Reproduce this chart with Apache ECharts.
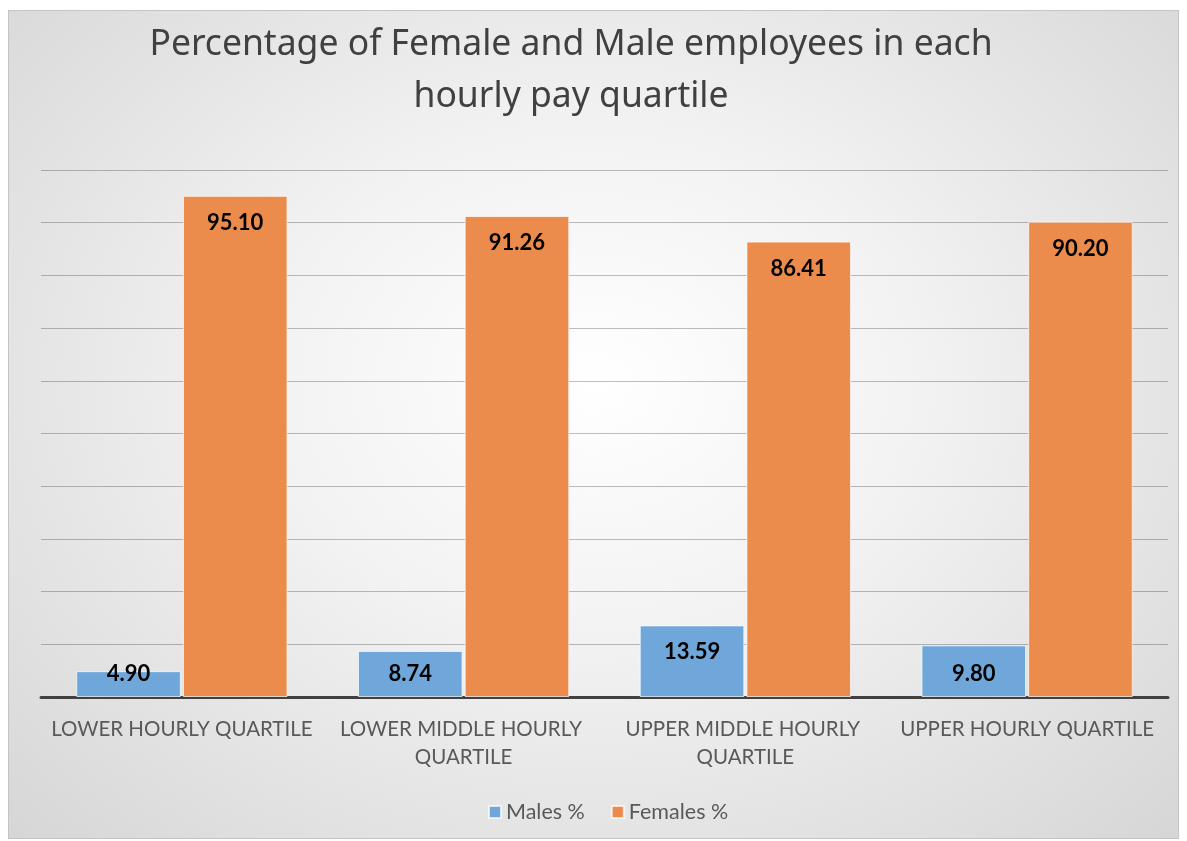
<!DOCTYPE html>
<html>
<head>
<meta charset="utf-8">
<script src="https://cdn.jsdelivr.net/npm/echarts@6/dist/echarts.min.js"></script>
<style>
  html, body { margin: 0; padding: 0; background: #fff; }
  #chart {
    position: absolute; left: 8px; top: 10px; width: 1169px; height: 827px;
    border: 1px solid #c4c4c4;
    background: radial-gradient(ellipse at 50% 45%, #ffffff 0%, #f2f2f2 40%, #d6d6d6 100%);
  }
</style>
</head>
<body>
<div id="chart"></div>
<script>
var categories = ['LOWER HOURLY QUARTILE', 'LOWER MIDDLE HOURLY QUARTILE', 'UPPER MIDDLE HOURLY QUARTILE', 'UPPER HOURLY QUARTILE'];
var males = [4.90, 8.74, 13.59, 9.80];
var females = [95.10, 91.26, 86.41, 90.20];

var myChart = echarts.init(document.getElementById('chart'));

// short bars: Excel keeps the label off the axis, so pin it to the bottom
function withLabels(vals) {
    return vals.map(function (v) {
        if (v < 10) {
            return { value: v, label: { position: 'insideBottom', distance: 12 } };
        }
        return v;
    });
}

var labelStyle = {
    show: true,
    position: 'insideTop',
    distance: 16,
    color: '#000',
    fontFamily: 'Lato',
    fontWeight: 'bold',
    fontSize: 22,
    formatter: function (p) { return p.value.toFixed(2); }
};

var option = {
    backgroundColor: 'transparent',
    title: {
        text: 'Percentage of Female and Male employees in each\nhourly pay quartile',
        left: 562,
        top: 8,
        padding: 0,
        textAlign: 'center',
        textStyle: {
            fontFamily: '"Comic Sans MS", "Noto Sans", sans-serif',
            fontWeight: 'normal',
            fontSize: 35.5,
            lineHeight: 52,
            color: '#404040'
        }
    },
    legend: {
        bottom: 10,
        left: 474,
        padding: 5,
        itemWidth: 12,
        itemHeight: 12,
        itemGap: 26,
        icon: 'rect',
        textStyle: { fontFamily: 'Lato', fontSize: 21.5, color: '#595959' },
        data: ['Males %', 'Females %']
    },
    grid: { left: 32, right: 10, top: 159, bottom: 141 },
    xAxis: {
        type: 'category',
        data: categories,
        axisLine: { lineStyle: { color: '#404040', width: 3 } },
        axisTick: { show: false },
        axisLabel: {
            interval: 0,
            margin: 18,
            width: 276,
            overflow: 'break',
            fontFamily: 'Lato',
            fontSize: 20.5,
            lineHeight: 28,
            color: '#595959'
        }
    },
    yAxis: {
        type: 'value',
        min: 0,
        max: 100,
        interval: 10,
        axisLabel: { show: false },
        axisLine: { show: false },
        axisTick: { show: false },
        splitLine: { lineStyle: { color: 'rgba(0,0,0,0.25)', width: 1 } }
    },
    series: [
        {
            name: 'Males %',
            type: 'bar',
            barGap: '2%',
            barCategoryGap: '25%',
            data: withLabels(males),
            itemStyle: { color: '#6fa7da', borderColor: 'rgba(255,255,255,0.7)', borderWidth: 1 },
            label: labelStyle
        },
        {
            name: 'Females %',
            type: 'bar',
            data: withLabels(females),
            itemStyle: { color: '#ec8c4c', borderColor: 'rgba(255,255,255,0.7)', borderWidth: 1 },
            label: labelStyle
        }
    ]
};

myChart.setOption(option);
</script>
</body>
</html>
